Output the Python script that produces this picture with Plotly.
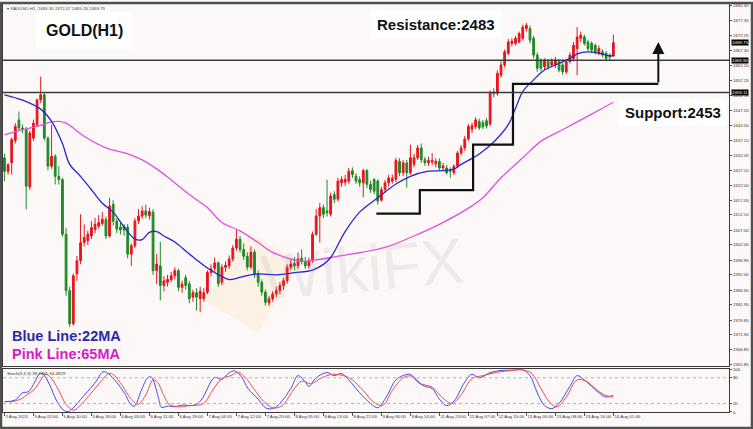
import plotly.graph_objects as go

# H1 bars, index 0 = 2 Aug 17:00 (weekend gap removed like MT4)
opens = [
    2431.2, 2426.6, 2429.5, 2437.0, 2443.9, 2441.2, 2440.6, 2421.4, 2437.8, 2442.3,
    2450.6, 2452.3, 2437.8, 2428.4, 2431.7, 2425.0, 2423.9, 2405.6, 2386.7, 2375.6,
    2392.3, 2396.7, 2402.8, 2403.4, 2405.0, 2407.2, 2408.3, 2409.2, 2410.5, 2405.0,
    2415.6, 2410.0, 2408.0, 2408.3, 2408.0, 2398.9, 2401.7, 2410.0, 2411.7, 2413.4,
    2411.8, 2413.0, 2393.4, 2395.0, 2388.4, 2389.5, 2390.3, 2391.7, 2393.4, 2387.8,
    2391.0, 2389.0, 2384.5, 2386.0, 2384.0, 2384.0, 2386.2, 2392.8, 2394.2, 2396.0,
    2389.5, 2394.5, 2395.0, 2397.3, 2401.0, 2403.9, 2400.5, 2398.2, 2394.6, 2399.6,
    2392.3, 2389.5, 2386.2, 2382.6, 2384.0, 2385.6, 2386.7, 2388.4, 2390.0, 2394.5,
    2395.8, 2395.0, 2397.6, 2396.4, 2395.0, 2396.7, 2405.6, 2411.7, 2414.5, 2413.4,
    2412.3, 2418.9, 2417.3, 2422.8, 2423.0, 2423.4, 2426.9, 2425.0, 2423.9, 2422.8,
    2426.9, 2422.3, 2423.9, 2423.4, 2417.0, 2420.6, 2422.8, 2423.4, 2424.0, 2430.0,
    2426.2, 2429.5, 2426.2, 2429.0, 2431.2, 2434.5, 2430.6, 2429.5, 2429.8, 2429.2,
    2430.0, 2427.8, 2427.8, 2427.0, 2426.2, 2428.4, 2432.8, 2434.5, 2437.5, 2440.8,
    2441.7, 2443.4, 2443.0, 2443.6, 2442.5, 2453.2, 2452.8, 2458.9, 2462.3, 2466.2,
    2469.5, 2469.5, 2470.0, 2471.2, 2474.5, 2474.5, 2471.2, 2465.6, 2463.6, 2461.7,
    2463.4, 2462.3, 2462.3, 2463.4, 2462.3, 2460.0, 2463.4, 2464.5, 2467.8, 2471.2,
    2471.7, 2470.0, 2469.5, 2468.9, 2466.2, 2466.7, 2466.2, 2465.6, 2465.30,
]
highs = [
    2432.6, 2429.4, 2438.0, 2442.8, 2446.7, 2442.4, 2441.5, 2440.3, 2444.0, 2451.0,
    2458.4, 2452.8, 2438.3, 2442.3, 2432.4, 2428.4, 2424.5, 2407.8, 2388.0, 2392.4,
    2398.3, 2412.3, 2408.9, 2406.7, 2410.0, 2411.0, 2412.0, 2413.0, 2411.5, 2417.8,
    2417.0, 2411.0, 2409.5, 2409.0, 2409.0, 2402.5, 2411.0, 2414.0, 2415.0, 2415.5,
    2414.5, 2414.0, 2399.0, 2403.0, 2391.5, 2392.0, 2393.0, 2394.5, 2394.0, 2390.0,
    2392.0, 2390.0, 2387.0, 2387.5, 2388.0, 2387.5, 2393.5, 2395.5, 2397.8, 2396.5,
    2395.5, 2396.5, 2398.5, 2402.0, 2407.3, 2405.0, 2402.5, 2399.5, 2401.5, 2400.5,
    2393.5, 2390.5, 2387.0, 2385.0, 2386.5, 2388.0, 2389.5, 2391.0, 2395.5, 2397.5,
    2398.0, 2399.5, 2400.5, 2398.0, 2397.8, 2406.5, 2414.0, 2416.0, 2415.5, 2423.9,
    2419.5, 2420.0, 2424.5, 2425.0, 2425.5, 2427.8, 2428.0, 2426.0, 2425.0, 2427.5,
    2427.5, 2423.5, 2424.5, 2424.0, 2421.5, 2423.8, 2425.5, 2425.6, 2431.2, 2431.0,
    2430.5, 2430.5, 2435.6, 2432.5, 2435.5, 2436.0, 2431.5, 2431.5, 2432.8, 2431.0,
    2431.0, 2429.5, 2428.8, 2428.0, 2429.0, 2433.5, 2435.5, 2438.5, 2442.5, 2443.0,
    2444.8, 2444.3, 2443.9, 2444.5, 2453.8, 2454.5, 2460.5, 2463.5, 2467.5, 2471.0,
    2471.2, 2472.0, 2473.5, 2475.8, 2476.4, 2475.5, 2472.0, 2466.5, 2464.5, 2464.5,
    2464.2, 2464.5, 2465.0, 2464.2, 2463.0, 2464.0, 2466.5, 2470.0, 2475.0, 2473.5,
    2472.5, 2470.8, 2470.2, 2469.5, 2468.8, 2467.5, 2467.0, 2466.2, 2472.47,
]
lows = [
    2423.4, 2425.5, 2425.6, 2436.0, 2440.5, 2439.4, 2413.9, 2420.5, 2436.9, 2441.8,
    2449.5, 2437.0, 2427.0, 2427.5, 2422.3, 2422.2, 2404.8, 2385.0, 2374.5, 2375.0,
    2390.0, 2395.6, 2401.5, 2402.0, 2404.0, 2406.0, 2407.5, 2408.5, 2404.0, 2404.5,
    2408.5, 2406.0, 2405.5, 2405.0, 2397.5, 2395.0, 2401.0, 2409.0, 2410.8, 2411.0,
    2410.5, 2392.0, 2388.9, 2383.4, 2386.5, 2388.0, 2389.5, 2390.5, 2386.5, 2386.0,
    2387.0, 2382.5, 2383.0, 2380.0, 2379.5, 2383.0, 2385.5, 2391.5, 2393.0, 2388.0,
    2388.5, 2393.0, 2394.0, 2396.5, 2400.0, 2399.5, 2397.0, 2393.5, 2394.0, 2391.0,
    2388.0, 2385.0, 2381.7, 2381.5, 2383.0, 2384.5, 2385.5, 2387.0, 2389.0, 2393.5,
    2393.5, 2394.0, 2395.5, 2394.0, 2394.0, 2396.0, 2405.0, 2402.8, 2411.0, 2411.5,
    2411.5, 2416.0, 2416.5, 2421.5, 2421.8, 2422.5, 2424.5, 2422.5, 2421.5, 2418.0,
    2421.0, 2419.5, 2419.0, 2415.5, 2416.5, 2419.5, 2421.5, 2422.5, 2423.0, 2425.0,
    2425.0, 2421.2, 2425.5, 2428.0, 2430.5, 2429.5, 2428.5, 2428.5, 2428.8, 2428.0,
    2427.0, 2426.8, 2425.5, 2424.5, 2425.5, 2427.8, 2432.0, 2433.5, 2436.8, 2439.5,
    2440.8, 2440.5, 2440.8, 2441.0, 2441.8, 2451.5, 2452.0, 2458.0, 2461.5, 2465.5,
    2468.5, 2468.8, 2469.5, 2470.5, 2473.5, 2469.5, 2464.5, 2460.0, 2460.2, 2460.8,
    2460.8, 2461.5, 2461.2, 2459.8, 2459.0, 2459.2, 2462.8, 2463.5, 2458.9, 2470.0,
    2468.8, 2467.0, 2466.5, 2465.8, 2465.5, 2464.8, 2463.5, 2463.6, 2465.26,
]
closes = [
    2426.7, 2428.9, 2437.3, 2441.7, 2441.2, 2440.6, 2421.7, 2439.5, 2442.8, 2450.6,
    2452.3, 2437.8, 2428.4, 2431.7, 2425.0, 2423.9, 2405.6, 2386.7, 2375.6, 2391.7,
    2396.7, 2402.8, 2404.5, 2405.6, 2407.8, 2408.9, 2409.5, 2410.6, 2405.0, 2415.0,
    2410.0, 2407.3, 2407.0, 2407.0, 2398.9, 2401.7, 2410.0, 2411.7, 2413.4, 2412.0,
    2413.2, 2393.4, 2395.6, 2388.4, 2390.0, 2390.5, 2391.7, 2393.4, 2387.8, 2388.9,
    2388.4, 2384.0, 2386.0, 2384.5, 2386.5, 2386.0, 2392.8, 2394.0, 2396.0, 2389.0,
    2394.5, 2395.2, 2397.3, 2401.0, 2403.9, 2400.5, 2398.2, 2394.6, 2399.6, 2392.3,
    2389.5, 2386.2, 2382.8, 2384.0, 2385.6, 2386.7, 2388.4, 2390.0, 2394.5, 2395.6,
    2395.0, 2397.3, 2396.4, 2395.0, 2396.7, 2405.6, 2411.7, 2414.5, 2412.3, 2412.8,
    2418.4, 2417.3, 2423.4, 2423.9, 2424.0, 2426.7, 2425.6, 2423.4, 2422.8, 2426.9,
    2422.3, 2420.6, 2420.0, 2416.7, 2420.5, 2422.8, 2424.5, 2424.3, 2430.3, 2426.2,
    2429.5, 2426.2, 2431.2, 2431.2, 2434.5, 2430.6, 2429.5, 2430.3, 2430.3, 2430.0,
    2427.8, 2428.5, 2426.2, 2426.7, 2428.4, 2432.8, 2434.5, 2437.5, 2441.7, 2441.9,
    2443.9, 2441.2, 2441.6, 2441.9, 2452.8, 2452.6, 2459.5, 2462.3, 2466.7, 2470.0,
    2470.3, 2471.2, 2472.8, 2475.0, 2475.6, 2470.6, 2465.6, 2461.2, 2461.2, 2463.6,
    2461.7, 2463.4, 2463.9, 2460.6, 2460.0, 2463.4, 2465.6, 2468.9, 2471.7, 2472.3,
    2469.5, 2467.8, 2467.3, 2466.7, 2467.8, 2465.6, 2464.5, 2464.9, 2469.75,
]

# moving averages (bar index, price)
ma22_bars = [0, 5, 10, 13, 16, 18, 21, 24, 27, 30, 33, 36, 38, 40, 42, 44, 47, 51, 56, 60,
             62, 64, 66, 70, 75, 80, 85, 88, 90, 94, 98, 103, 108, 112, 117, 121, 124, 126,
             129, 131, 135, 139, 141, 143, 146, 149, 153, 156, 158, 161, 164, 166, 168]
ma22 = [2452.3, 2450.5, 2447.5, 2443.4, 2436.0, 2429.0, 2425.0, 2420.5, 2416.0, 2413.0,
        2408.0, 2404.0, 2403.8, 2406.2, 2406.5, 2405.0, 2403.0, 2399.0, 2394.3, 2391.4,
        2390.4, 2390.8, 2391.5, 2392.3, 2392.0, 2392.7, 2393.6, 2395.5, 2397.8, 2406.5,
        2413.0, 2417.8, 2422.4, 2425.0, 2426.7, 2426.9, 2427.4, 2429.0, 2431.0, 2432.5,
        2436.5, 2442.3, 2447.8, 2453.4, 2457.3, 2460.6, 2462.8, 2464.5, 2466.0, 2466.7,
        2466.2, 2465.6, 2465.3]
ma65_bars = [0, 5, 9, 13, 15, 17, 22, 28, 34, 38, 42, 46, 51, 56, 60, 65, 70, 74, 79, 82,
             86, 90, 105, 112, 120, 129, 132, 137, 143, 148, 154, 159, 165, 168]
ma65 = [2438.9, 2440.6, 2441.7, 2443.2, 2443.4, 2442.8, 2438.4, 2434.5, 2432.5, 2430.5,
        2427.5, 2423.8, 2418.9, 2414.5, 2409.5, 2406.7, 2402.8, 2399.5, 2397.3, 2396.5,
        2397.0, 2397.8, 2401.2, 2404.5, 2408.9, 2415.1, 2417.8, 2424.5, 2431.2, 2436.7,
        2440.6, 2443.9, 2447.8, 2449.8]

# stochastic (5,3,3)
stoch_k_bars = [0, 3, 5, 6.5, 8.4, 9.7, 10.7, 12.5, 14.3, 16.2, 17.6, 18.9, 21.7, 24.9, 27.2,
                28.6, 30.9, 33.2, 35, 35.9, 37.8, 39.6, 40.6, 42.4, 43.3, 45.2, 47, 48.8, 52.5,
                54.3, 58, 59.9, 61.7, 63.5, 65.4, 67.2, 70, 72, 74, 76, 79, 81, 83, 84, 86, 89,
                91, 93, 95, 98, 101, 103, 105, 108, 110, 112, 114, 116, 118, 120, 122, 124,
                127, 129, 131, 134, 137, 140, 143, 145, 147, 149, 151, 153, 156, 158, 160,
                162, 164, 166, 168]
stoch_k = [24, 28, 45, 47, 70, 90, 88, 63, 28, 5, 1, 9, 36, 67, 94, 90, 70, 43, 16, 14, 51,
           81, 81, 36, 11, 14, 12, 16, 16, 28, 81, 76, 90, 96, 82, 55, 30, 10, 8, 20, 55, 85,
           70, 60, 80, 92, 85, 90, 75, 45, 20, 10, 30, 75, 85, 88, 70, 60, 55, 30, 15, 25,
           70, 88, 80, 92, 97, 98, 99, 85, 45, 15, 8, 20, 60, 85, 75, 60, 45, 35, 39.24]
stoch_d_bars = [1.5, 4.5, 6.5, 8.5, 10, 11.5, 13, 15, 17, 19, 20.5, 23.5, 26.5, 28.8, 30.2,
                32.5, 34.8, 36.8, 39, 41, 42.2, 44, 45.5, 48, 51, 55, 57, 60, 62.5, 64.5,
                66.5, 69, 71.5, 74, 76.5, 80, 82, 84.5, 87.5, 90.5, 93, 95.5, 99, 102,
                104.5, 107, 110, 112.5, 115, 118, 121, 123.5, 126, 129, 132, 136, 140, 143,
                145.5, 148, 150.5, 152.5, 155, 158, 160.5, 163, 165.5, 168]
stoch_d = [23, 30, 42, 55, 75, 88, 78, 50, 18, 4, 12, 40, 70, 90, 86, 62, 32, 18, 40, 75,
           70, 38, 18, 12, 15, 20, 45, 78, 85, 93, 80, 52, 25, 10, 14, 55, 72, 66, 80, 88,
           86, 78, 50, 22, 16, 50, 80, 84, 66, 58, 32, 20, 40, 78, 85, 93, 97, 98, 90, 55,
           22, 12, 35, 75, 72, 55, 40, 34.48]

# time axis labels, one every 8 bars
label_bars = [0, 8, 16, 24, 32, 40, 48, 56, 64, 72, 80, 88, 96, 104, 112, 120, 128, 136,
              144, 152, 160, 168]
time_labels = ["2 Aug 2024", "5 Aug 02:00", "5 Aug 10:00", "5 Aug 18:00", "6 Aug 03:00",
               "6 Aug 11:00", "6 Aug 19:00", "7 Aug 04:00", "7 Aug 12:00", "7 Aug 20:00",
               "8 Aug 05:00", "8 Aug 13:00", "8 Aug 22:00", "9 Aug 06:00", "9 Aug 14:00",
               "11 Aug 23:00", "12 Aug 07:00", "12 Aug 15:00", "13 Aug 00:00",
               "13 Aug 08:00", "13 Aug 16:00", "14 Aug 01:00"]
price_ticks = [2482.30, 2477.35, 2472.25, 2467.30, 2462.20, 2457.25, 2452.15, 2447.20,
               2442.05, 2437.15, 2432.05, 2427.10, 2422.00, 2417.05, 2412.10, 2407.00,
               2402.05, 2396.95, 2392.00, 2386.90, 2381.95, 2376.85, 2371.90, 2366.85,
               2361.85]

resistance_level = 2463.90
support_level = 2453.11
last_price = 2469.75

# analyst's staircase drawing (bar index, price)
step_x = [102.6, 114.6, 114.6, 129.3, 129.3, 140.3, 140.3, 180.4]
step_y = [2412.5, 2412.5, 2420.4, 2420.4, 2435.6, 2435.6, 2455.95, 2455.95]
arrow_top = 2470.0

W, H = 753, 429
ML, MR, MT, MB = 3, 24, 2, 17
PW, PH = W - ML - MR, H - MT - MB


def px(x):
    return (x - ML) / PW


def py(y):
    return (H - MB - y) / PH


RED = "#e8141c"
GREEN = "#1f8a26"
bars = list(range(len(closes)))

fig = go.Figure()
fig.add_trace(
    go.Candlestick(
        x=bars, open=opens, high=highs, low=lows, close=closes,
        increasing={"line": {"color": RED, "width": 1}, "fillcolor": RED},
        decreasing={"line": {"color": GREEN, "width": 1}, "fillcolor": GREEN},
        whiskerwidth=0, showlegend=False, hoverinfo="skip",
    )
)
fig.add_trace(go.Scatter(x=ma65_bars, y=ma65, mode="lines", line={"color": "#e34fe3", "width": 1.3, "shape": "spline"}, showlegend=False))
fig.add_trace(go.Scatter(x=ma22_bars, y=ma22, mode="lines", line={"color": "#2626d0", "width": 1.3, "shape": "spline"}, showlegend=False))
fig.add_trace(go.Scatter(x=stoch_k_bars, y=stoch_k, mode="lines", xaxis="x2", yaxis="y2",
                         line={"color": "#3d4cf2", "width": 1, "shape": "spline"}, showlegend=False))
fig.add_trace(go.Scatter(x=stoch_d_bars, y=stoch_d, mode="lines", xaxis="x2", yaxis="y2",
                         line={"color": "#ec4a55", "width": 1, "shape": "spline"}, showlegend=False))
fig.add_trace(go.Scatter(x=step_x, y=step_y, mode="lines", line={"color": "#111111", "width": 2.2}, showlegend=False))

main_dom = [py(366), 1]
stoch_dom = [0, py(369)]
axis_font = {"family": "Arial, Liberation Sans", "size": 4.4, "color": "#333333"}

fig.update_layout(
    width=W, height=H,
    margin={"l": ML, "r": MR, "t": MT, "b": MB},
    paper_bgcolor="#fdf8f8", plot_bgcolor="#fdf8f8",
    showlegend=False,
    xaxis={"domain": [0, 1], "anchor": "y", "range": [-0.4, 199.9], "showticklabels": False,
           "showgrid": False, "zeroline": False, "showline": True, "mirror": True,
           "linecolor": "#3a3a3a", "linewidth": 1, "rangeslider": {"visible": False}, "ticks": ""},
    xaxis2={"domain": [0, 1], "anchor": "y2", "matches": "x", "showgrid": False, "zeroline": False,
            "showline": True, "mirror": True, "linecolor": "#3a3a3a", "linewidth": 1,
            "tickvals": label_bars, "ticktext": time_labels, "ticks": "outside", "ticklen": 3,
            "tickangle": 0, "tickcolor": "#555555", "ticklabelposition": "outside right",
            "tickfont": axis_font},
    yaxis={"domain": main_dom, "anchor": "x", "side": "right", "range": [2361.38, 2482.72],
           "tickvals": price_ticks, "ticktext": [f"{v:.2f}" for v in price_ticks],
           "ticks": "outside", "ticklen": 2, "tickcolor": "#555555", "tickfont": axis_font,
           "showgrid": False, "zeroline": False, "showline": True, "mirror": True,
           "linecolor": "#3a3a3a", "linewidth": 1},
    yaxis2={"domain": stoch_dom, "anchor": "x2", "side": "right", "range": [0, 100],
            "tickvals": [0, 20, 80, 100], "ticktext": ["0", "20", "80", "100"],
            "ticks": "outside", "ticklen": 2, "tickcolor": "#555555", "tickfont": axis_font,
            "showgrid": False, "zeroline": False, "showline": True, "mirror": True,
            "linecolor": "#3a3a3a", "linewidth": 1},
)

shapes = [
    {"type": "line", "xref": "paper", "yref": "y", "x0": 0, "x1": 1, "y0": resistance_level,
     "y1": resistance_level, "line": {"color": "#3c3c3c", "width": 1.5}},
    {"type": "line", "xref": "paper", "yref": "y", "x0": 0, "x1": 1, "y0": support_level,
     "y1": support_level, "line": {"color": "#3c3c3c", "width": 1.5}},
    {"type": "line", "xref": "paper", "yref": "y2", "x0": 0, "x1": 1, "y0": 80, "y1": 80,
     "line": {"color": "#b0b0b0", "width": 1, "dash": "dot"}},
    {"type": "line", "xref": "paper", "yref": "y2", "x0": 0, "x1": 1, "y0": 20, "y1": 20,
     "line": {"color": "#b0b0b0", "width": 1, "dash": "dot"}},
    # faint watermark logo
    {"type": "path", "xref": "paper", "yref": "paper", "layer": "below",
     "path": f"M {px(205)} {py(300)} L {px(250)} {py(232)} L {px(300)} {py(262)} L {px(258)} {py(332)} Z",
     "fillcolor": "rgba(244,214,150,0.2)", "line": {"width": 0}},
    # outer frame
    {"type": "rect", "xref": "paper", "yref": "paper", "x0": px(1), "x1": px(752), "y0": py(428),
     "y1": py(1), "line": {"color": "#505050", "width": 2.5}},
]
fig.update_layout(shapes=shapes)

bold = "Arial, Liberation Sans"


def note(text, x, y, size, color="#111111", xanchor="center", **kw):
    return {"text": text, "x": px(x), "y": py(y), "xref": "paper", "yref": "paper",
            "xanchor": xanchor, "yanchor": "middle", "showarrow": False,
            "font": {"family": bold, "size": size, "color": color}, **kw}


annotations = [
    note("WikiFX", 362, 268, 64, "rgba(150,150,150,0.14)", textangle=-5),
    note("▾ XAUUSD,H1  2465.30 2472.47 2465.26 2469.75", 5, 7, 4.4, "#444444", "left"),
    note("<b>GOLD(H1)</b>", 84, 29, 16, bgcolor="#ffffff", borderpad=9),
    note("<b>Resistance:2483</b>", 436, 23, 15, bgcolor="#ffffff", borderpad=5),
    note("<b>Support:2453</b>", 673, 111, 15, bgcolor="#ffffff", borderpad=5),
    note("<b>Blue Line:22MA</b>", 10, 336, 14.5, "#2a2aa8", "left"),
    note("<b>Pink Line:65MA</b>", 10, 354, 14.5, "#d21fc6", "left"),
    note("Stoch(5,3,3) 39.2381 34.4829", 5, 373, 4.4, "#333333", "left"),
    {"x": step_x[-1], "y": arrow_top, "ax": step_x[-1], "ay": step_y[-1], "xref": "x", "yref": "y",
     "axref": "x", "ayref": "y", "text": "", "showarrow": True, "arrowhead": 2, "arrowsize": 1.2,
     "arrowwidth": 2, "arrowcolor": "#111111"},
]
for level in (last_price, resistance_level, support_level):
    annotations.append(
        {"text": f"{level:.2f}", "x": 1, "y": level, "xref": "paper", "yref": "y", "xanchor": "left",
         "yanchor": "middle", "xshift": 2, "showarrow": False, "bgcolor": "#000000",
         "font": {"family": bold, "size": 4.4, "color": "#ffffff"}, "borderpad": 0}
    )
fig.update_layout(annotations=annotations)

# drop the page's default body margin so the chart sits at the window's corner
fig.write_html("out.html", config={"displayModeBar": False},
               post_script="document.body.style.margin='0px';")
